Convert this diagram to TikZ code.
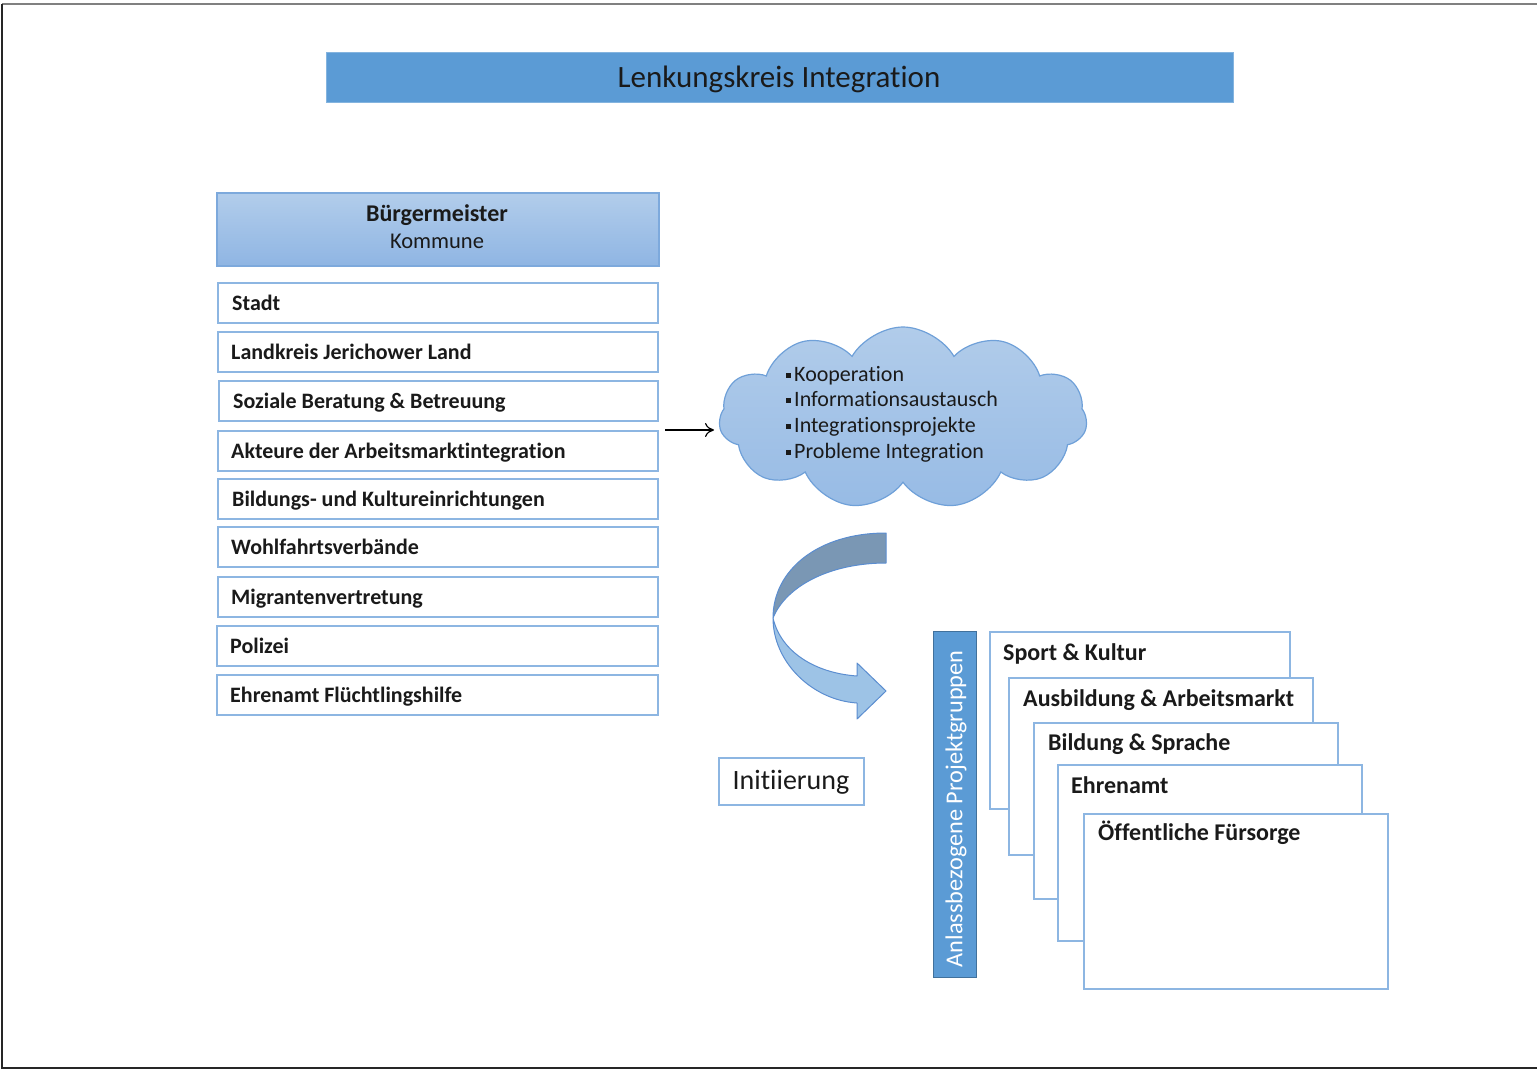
\documentclass[tikz,border=0pt]{standalone}
\usepackage{fontspec}
\setmainfont{Carlito}[Ligatures={NoCommon}]
\usetikzlibrary{shapes.symbols,arrows.meta,calc}
\definecolor{titleblue}{HTML}{5B9BD5}
\definecolor{boxline}{HTML}{8DB6E2}
\definecolor{bmtop}{HTML}{B2CDEB}
\definecolor{bmbot}{HTML}{8FB5E3}
\definecolor{bmline}{HTML}{7DA9DC}
\definecolor{cloudtop}{HTML}{B1CCEA}
\definecolor{cloudbot}{HTML}{97BBE5}
\definecolor{cloudline}{HTML}{6FA0D8}
\definecolor{arrdark}{HTML}{7A97B4}
\definecolor{arrlight}{HTML}{9DC3E6}
\definecolor{arrline}{HTML}{5B8DD0}
\definecolor{barline}{HTML}{41719C}
\definecolor{txt}{HTML}{1A1A1A}
\newcommand{\cbul}{\rule[3.5pt]{5pt}{5pt}\hspace{3pt}}
\begin{document}
\begin{tikzpicture}[x=1pt,y=-1pt,
  frameline/.style={line width=1.6pt},
  listbox/.style={draw=boxline, line width=1.8pt, fill=white, minimum height=40pt, anchor=north west, inner sep=0pt},
  listtext/.style={anchor=base west, inner sep=0pt, text=txt, font=\fontsize{22}{26}\selectfont\bfseries},
  stackbox/.style={draw=boxline, line width=1.8pt, fill=white, anchor=north west, inner sep=0pt},
  stacktext/.style={anchor=base west, inner sep=0pt, text=txt, font=\fontsize{24}{28}\selectfont\bfseries},
  cloudtext/.style={anchor=base west, inner sep=0pt, text=txt, font=\fontsize{22}{26}\selectfont},
  linkarrow/.style={draw=black, line width=1.2pt, -{To[length=9pt,width=14pt]}}
]
\useasboundingbox (0,0) rectangle (1537,1069);
% frame
\draw[frameline, draw=black!50] (1537,4) -- (2,4);
\draw[frameline, draw=black!85] (2,4) -- (2,1067.8) -- (1537,1067.8);

% title
\node[fill=titleblue, draw=titleblue!75!white, line width=0.8pt, minimum width=907pt, minimum height=50pt, anchor=north west, inner sep=0pt] (title) at (326,52) {};
\node[anchor=base, inner sep=0pt, text=txt, font=\fontsize{31}{36}\selectfont] (titletext) at (779,87) {Lenkungskreis Integration};

% Buergermeister
\node[draw=bmline, line width=1.8pt, top color=bmtop, bottom color=bmbot, minimum width=442pt, minimum height=73pt, anchor=north west, inner sep=0pt] (bm) at (216,192) {};
\node[anchor=base, inner sep=0pt, text=txt, font=\fontsize{24}{28}\selectfont\bfseries] (bmt1) at (437,221) {Bürgermeister};
\node[anchor=base, inner sep=0pt, text=txt, font=\fontsize{22.5}{27}\selectfont] (bmt2) at (437,248) {Kommune};

% list
\node[listbox, minimum width=440pt] (l1) at (217,282) {};
\node[listtext] (l1t) at (232,310) {Stadt};
\node[listbox, minimum width=440pt] (l2) at (217,331) {};
\node[listtext] (l2t) at (231,359) {Landkreis Jerichower Land};
\node[listbox, minimum width=439pt] (l3) at (218,380) {};
\node[listtext] (l3t) at (233,408) {Soziale Beratung \& Betreuung};
\node[listbox, minimum width=440pt] (l4) at (217,430) {};
\node[listtext] (l4t) at (231,458) {Akteure der Arbeitsmarktintegration};
\node[listbox, minimum width=440pt] (l5) at (217,478) {};
\node[listtext] (l5t) at (232,506) {Bildungs- und Kultureinrichtungen};
\node[listbox, minimum width=440pt] (l6) at (217,526) {};
\node[listtext] (l6t) at (231,554) {Wohlfahrtsverbände};
\node[listbox, minimum width=440pt] (l7) at (217,576) {};
\node[listtext] (l7t) at (231,604) {Migrantenvertretung};
\node[listbox, minimum width=441pt] (l8) at (216,625) {};
\node[listtext] (l8t) at (230,653) {Polizei};
\node[listbox, minimum width=441pt] (l9) at (216,674) {};
\node[listtext] (l9t) at (230,702) {Ehrenamt Flüchtlingshilfe};

% cloud
\node[cloud, cloud puffs=11, cloud puff arc=120, cloud ignores aspect, minimum width=368pt, minimum height=182pt, draw=cloudline, line width=1.2pt, top color=cloudtop, bottom color=cloudbot, inner sep=0pt] (cloud) at (903,418) {};
\node[cloudtext] (c1) at (786,381) {\cbul Kooperation};
\node[cloudtext] (c2) at (786,406) {\cbul Informationsaustausch};
\node[cloudtext] (c3) at (786,432) {\cbul Integrationsprojekte};
\node[cloudtext] (c4) at (786,458) {\cbul Probleme Integration};

% link arrow
\coordinate (arrS) at (665,430);
\coordinate (arrE) at (714,430);
\draw[linkarrow] (arrS) -- (arrE);

% curved arrow
\draw[fill=arrdark, draw=arrline, line width=1pt, line join=round]
  (886,533) .. controls (818,533) and (773,570) .. (773,618)
  .. controls (786,586) and (830,563) .. (886,563) -- cycle;
\draw[fill=arrlight, draw=arrline, line width=1pt, line join=round]
  (773,618) .. controls (773,662) and (812,700) .. (857,703)
  -- (857,719) -- (886,691) -- (857,663) -- (857,676)
  .. controls (815,673) and (781,652) .. (773,618) -- cycle;

% Initiierung
\node[draw=boxline, line width=1.6pt, fill=white, minimum width=145pt, minimum height=47pt, anchor=north west, inner sep=0pt] (init) at (718,757) {};
\node[anchor=base, inner sep=0pt, text=txt, font=\fontsize{28}{33}\selectfont] (initt) at (791,789) {Initiierung};

% vertical bar
\node[fill=titleblue, draw=barline, line width=1pt, minimum width=43pt, minimum height=346pt, anchor=north west, inner sep=0pt] (bar) at (933,631) {};
\node[rotate=90, inner sep=0pt, text=white, font=\fontsize{24.3}{29}\selectfont] (bart) at (956,809) {Anlassbezogene Projektgruppen};

% stacked boxes
\node[stackbox, minimum width=300pt, minimum height=177pt] (s1) at (989,631) {};
\node[stacktext] (s1t) at (1003,660) {Sport \& Kultur};
\node[stackbox, minimum width=304pt, minimum height=177pt] (s2) at (1008,677) {};
\node[stacktext] (s2t) at (1023,706) {Ausbildung \& Arbeitsmarkt};
\node[stackbox, minimum width=304pt, minimum height=176pt] (s3) at (1033,722) {};
\node[stacktext] (s3t) at (1048,750) {Bildung \& Sprache};
\node[stackbox, minimum width=304pt, minimum height=176pt] (s4) at (1057,764) {};
\node[stacktext] (s4t) at (1071,793) {Ehrenamt};
\node[stackbox, minimum width=304pt, minimum height=175pt] (s5) at (1083,813) {};
\node[stacktext] (s5t) at (1098,840) {Öffentliche Fürsorge};
\end{tikzpicture}
\end{document}
